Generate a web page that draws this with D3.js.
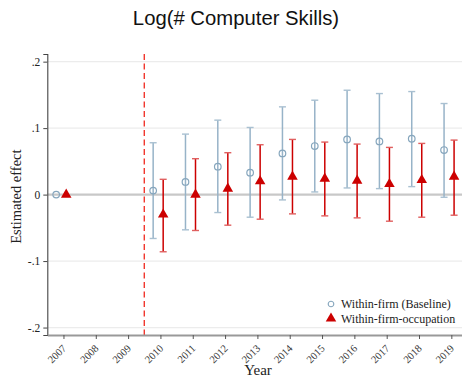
<!DOCTYPE html>
<html>
<head>
<meta charset="utf-8">
<script src="https://cdn.jsdelivr.net/npm/d3@7"></script>
<style>
  html, body { margin: 0; padding: 0; background: #fff; }
  svg { display: block; }
</style>
</head>
<body>
<svg id="chart" width="462" height="378"></svg>
<script>
// Event-study estimates by year (reference year 2007 normalised to zero)
const years = [2007, 2010, 2011, 2012, 2013, 2014, 2015, 2016, 2017, 2018, 2019];

const baselineEst = [0, 0.006, 0.019, 0.042, 0.033, 0.062, 0.073, 0.083, 0.080, 0.084, 0.067];
const baselineLo  = [0, -0.066, -0.053, -0.027, -0.034, -0.008, 0.004, 0.010, 0.009, 0.012, -0.004];
const baselineHi  = [0, 0.078, 0.091, 0.112, 0.101, 0.132, 0.142, 0.157, 0.152, 0.155, 0.137];

const occEst = [0, -0.030, 0.000, 0.009, 0.020, 0.027, 0.024, 0.021, 0.016, 0.022, 0.027];
const occLo  = [0, -0.086, -0.054, -0.046, -0.037, -0.029, -0.032, -0.035, -0.040, -0.034, -0.031];
const occHi  = [0, 0.023, 0.054, 0.063, 0.075, 0.083, 0.079, 0.076, 0.071, 0.077, 0.082];

const xTickYears = d3.range(2007, 2020);
const yTicks = [-0.2, -0.1, 0, 0.1, 0.2];
const yTickLabels = ["-.2", "-.1", "0", ".1", ".2"];
const legendLabels = ["Within-firm (Baseline)", "Within-firm-occupation"];
const treatmentLine = 2009.5;

const svg = d3.select("#chart");
const serif = "'Liberation Serif', 'Times New Roman', serif";

const x = d3.scaleLinear().domain([2006.5, 2019.33]).range([47.3, 462]);
const y = d3.scaleLinear().domain([-0.2112, 0.2115]).range([335, 54]);

const blue = "#97b3c8";
const red = "#cc0000";

// Title
svg.append("text")
  .attr("x", 236).attr("y", 25)
  .attr("text-anchor", "middle")
  .attr("font-family", "'Liberation Sans', Arial, sans-serif")
  .attr("font-size", 20.3)
  .attr("fill", "#111")
  .text("Log(# Computer Skills)");

// Horizontal grid lines
svg.append("g").selectAll("line")
  .data(yTicks.filter(d => d !== 0))
  .join("line")
  .attr("x1", x.range()[0]).attr("x2", x.range()[1])
  .attr("y1", d => y(d)).attr("y2", d => y(d))
  .attr("stroke", "#ececec").attr("stroke-width", 1.3);

// Zero reference line
svg.append("line")
  .attr("x1", x.range()[0]).attr("x2", x.range()[1])
  .attr("y1", y(0)).attr("y2", y(0))
  .attr("stroke", "#c8c8c8").attr("stroke-width", 2.2);

// Treatment start marker
svg.append("line")
  .attr("x1", x(treatmentLine)).attr("x2", x(treatmentLine))
  .attr("y1", y.range()[1]).attr("y2", y.range()[0])
  .attr("stroke", "#f0281e").attr("stroke-width", 1.3)
  .attr("stroke-dasharray", "6,3.5");

// Y axis
const yAxis = d3.axisLeft(y)
  .tickValues(yTicks)
  .tickFormat((d, i) => yTickLabels[i])
  .tickSize(4)
  .tickPadding(3);
const gy = svg.append("g")
  .attr("transform", `translate(${x.range()[0]},0)`)
  .call(yAxis);
gy.select(".domain").attr("stroke", "#444").attr("stroke-width", 1.1);
gy.selectAll(".tick line").attr("stroke", "#444");
gy.selectAll(".tick text")
  .attr("font-family", serif).attr("font-size", 11.5).attr("fill", "#222");

// X axis
const xAxis = d3.axisBottom(x)
  .tickValues(xTickYears)
  .tickFormat(d3.format("d"))
  .tickSize(4)
  .tickSizeOuter(0);
const gx = svg.append("g")
  .attr("transform", `translate(0,${y.range()[0]})`)
  .call(xAxis);
gx.select(".domain").attr("stroke", "#999").attr("stroke-width", 2);
gx.selectAll(".tick line").attr("stroke", "#555");
gx.selectAll(".tick text")
  .attr("font-family", serif).attr("font-size", 10.5).attr("fill", "#333")
  .attr("text-anchor", "end")
  .attr("x", 0).attr("y", 0).attr("dy", 0)
  .attr("transform", "translate(3,14) rotate(-45)");

// Axis titles
svg.append("text")
  .attr("transform", `translate(21,${y(0) + 2}) rotate(-90)`)
  .attr("text-anchor", "middle")
  .attr("font-family", serif).attr("font-size", 14.5).attr("fill", "#222")
  .text("Estimated effect");

svg.append("text")
  .attr("x", 258).attr("y", 375)
  .attr("text-anchor", "middle")
  .attr("font-family", serif).attr("font-size", 15).attr("fill", "#222")
  .text("Year");

// Confidence intervals with caps
function drawSeries(est, lo, hi, offset, color, capColor, lineWidth) {
  const g = svg.append("g");
  const rows = years.map((yr, i) => ({ yr, est: est[i], lo: lo[i], hi: hi[i] }))
    .filter(d => d.hi !== d.lo);
  g.selectAll("line.ci")
    .data(rows).join("line").attr("class", "ci")
    .attr("x1", d => x(d.yr + offset)).attr("x2", d => x(d.yr + offset))
    .attr("y1", d => y(d.lo)).attr("y2", d => y(d.hi))
    .attr("stroke", color).attr("stroke-width", lineWidth);
  ["lo", "hi"].forEach(k => {
    g.selectAll(`line.cap-${k}`)
      .data(rows).join("line").attr("class", `cap-${k}`)
      .attr("x1", d => x(d.yr + offset) - 3.5).attr("x2", d => x(d.yr + offset) + 3.5)
      .attr("y1", d => y(d[k])).attr("y2", d => y(d[k]))
      .attr("stroke", capColor).attr("stroke-width", 1.4);
  });
  return g;
}

const offBase = -0.225;
const offOcc = 0.085;

drawSeries(baselineEst, baselineLo, baselineHi, offBase, blue, "#a9c0d1", 1.5);
drawSeries(occEst, occLo, occHi, offOcc, red, "#e06060", 1.5);

// Baseline point estimates
svg.append("g").selectAll("circle")
  .data(years.map((yr, i) => ({ yr, v: baselineEst[i] })))
  .join("circle")
  .attr("cx", d => x(d.yr + offBase)).attr("cy", d => y(d.v))
  .attr("r", 3.3)
  .attr("fill", "none").attr("stroke", "#86a6bd").attr("stroke-width", 1.2);

// Occupation-level point estimates
const tri = d3.symbol().type(d3.symbolTriangle).size(48);
svg.append("g").selectAll("path")
  .data(years.map((yr, i) => ({ yr, v: occEst[i] })))
  .join("path")
  .attr("d", tri)
  .attr("transform", d => `translate(${x(d.yr + offOcc)},${y(d.v)})`)
  .attr("fill", red);

// Legend
const lg = svg.append("g").attr("transform", "translate(331,304)");
lg.append("circle").attr("cx", 0).attr("cy", 0).attr("r", 2.8)
  .attr("fill", "none").attr("stroke", "#86a6bd").attr("stroke-width", 1.1);
lg.append("path").attr("d", tri).attr("transform", "translate(0,14.5)").attr("fill", red);
lg.selectAll("text")
  .data(legendLabels)
  .join("text")
  .attr("x", 10).attr("y", (d, i) => i * 14.5 + 4)
  .attr("font-family", serif).attr("font-size", 12).attr("fill", "#222")
  .text(d => d);
</script>
</body>
</html>
